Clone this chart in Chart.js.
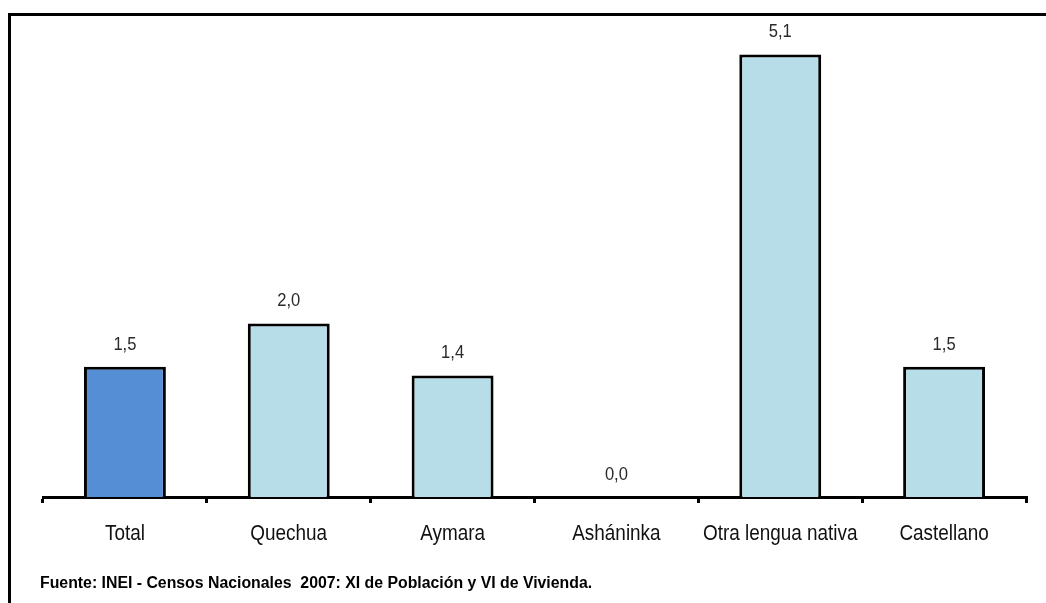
<!DOCTYPE html>
<html>
<head>
<meta charset="utf-8">
<script src="https://cdn.jsdelivr.net/npm/chart.js@4"></script>
<style>
  html, body { margin: 0; padding: 0; background: #fff; }
  body { width: 1046px; height: 603px; position: relative; overflow: hidden; }
  .frame { position: absolute; left: 8px; top: 13px; width: 1100px; height: 700px;
           border-top: 3px solid #000; border-left: 3px solid #000; }
  .wrap { position: absolute; left: 0; top: 0; width: 1046px; height: 603px; }
  .note { position: absolute; left: 40px; top: 574px; font: bold 16px 'Liberation Sans', Arial, sans-serif;
          color: #000; white-space: pre; transform-origin: 0 0; }
</style>
</head>
<body>
<div class="frame"></div>
<div class="wrap"><canvas id="chart"></canvas></div>
<div class="note" id="note">Fuente: INEI - Censos Nacionales  2007: XI de Población y VI de Vivienda.</div>
<script>
// data
const categories = ['Total', 'Quechua', 'Aymara', 'Asháninka', 'Otra lengua nativa', 'Castellano'];
const values     = [1.5, 2.0, 1.4, 0.0, 5.1, 1.5];
const barColors  = ['#558ed5', '#b7dde8', '#b7dde8', '#b7dde8', '#b7dde8', '#b7dde8'];

const FONT = "'Liberation Sans', Arial, sans-serif";

// the source font is a narrow one, so squeeze the footnote to its width
const note = document.getElementById('note');
note.style.transform = 'scaleX(' + (552 / note.offsetWidth) + ')';

// value labels above bars + narrow category labels under the axis
const textLayer = {
    id: 'textLayer',
    afterDraw(chart) {
        const ctx = chart.ctx;
        const meta = chart.getDatasetMeta(0);
        const xs = chart.scales.x;
        ctx.save();
        ctx.textAlign = 'center';
        ctx.textBaseline = 'middle';
        ctx.font = '18px ' + FONT;
        ctx.fillStyle = '#2a2a2a';
        meta.data.forEach((bar, i) => {
            ctx.save();
            ctx.translate(bar.x, bar.y - 22);
            ctx.scale(0.92, 1);
            ctx.fillText(values[i].toFixed(1).replace('.', ','), 0, 0);
            ctx.restore();
        });
        ctx.font = '22px ' + FONT;
        ctx.fillStyle = '#111';
        categories.forEach((c, i) => {
            const x = xs.getPixelForValue(i);
            ctx.save();
            ctx.translate(x, 534);
            ctx.scale(0.86, 1);
            ctx.fillText(c, 0, 0);
            ctx.restore();
        });
        ctx.restore();
    }
};

new Chart(document.getElementById('chart'), {
    type: 'bar',
    data: {
        labels: categories,
        datasets: [{
            data: values,
            backgroundColor: barColors,
            borderColor: '#000',
            borderWidth: 3,
            barPercentage: 0.5,
            categoryPercentage: 1,
        }]
    },
    options: {
        responsive: true, maintainAspectRatio: false,
        animation: false,
        layout: { padding: { left: 43, right: 20, top: 24, bottom: 100 } },
        plugins: { legend: { display: false }, tooltip: { enabled: false } },
        scales: {
            x: {
                grid: { display: true, drawOnChartArea: false, drawTicks: true, tickLength: 6,
                        color: '#000', lineWidth: 3, offset: true },
                border: { display: true, color: '#000', width: 3 },
                ticks: { display: false },
            },
            y: {
                display: false,
                min: 0, max: 5.45,
            }
        }
    },
    plugins: [textLayer]
});
</script>
</body>
</html>
